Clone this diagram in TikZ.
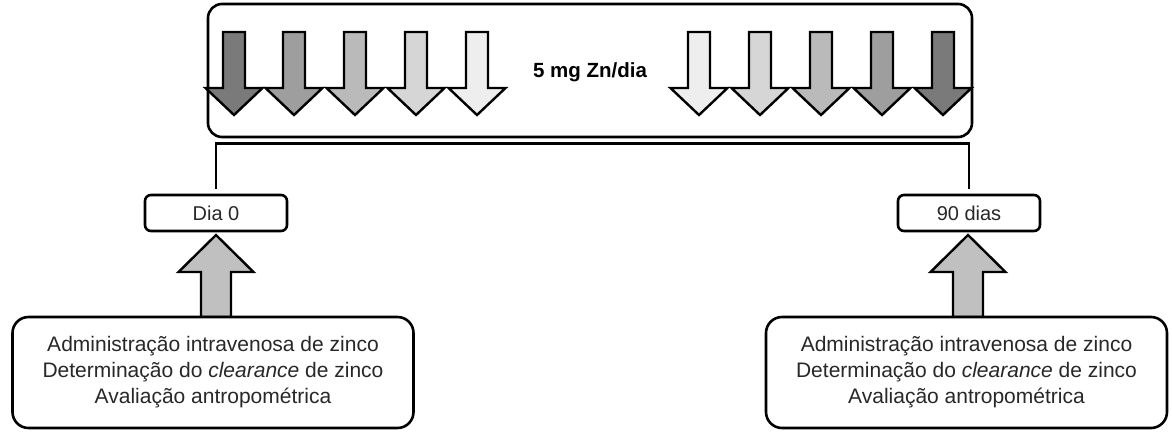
\documentclass[tikz,border=0pt]{standalone}
\usepackage{fontspec}
\setmainfont{Liberation Sans}
\usetikzlibrary{positioning}
\definecolor{zincA}{RGB}{122,122,122}
\definecolor{zincB}{RGB}{158,158,158}
\definecolor{zincC}{RGB}{186,186,186}
\definecolor{zincD}{RGB}{214,214,214}
\definecolor{zincE}{RGB}{238,238,238}
\definecolor{probe}{RGB}{192,192,192}
\definecolor{inkgrey}{RGB}{40,40,40}
\tikzset{
  panel/.style={draw=black,line width=2.6pt,rounded corners=14pt,fill=white},
  daybox/.style={draw=black,line width=2.6pt,rounded corners=6pt,fill=white,
    minimum width=142pt,minimum height=36pt,text=inkgrey,
    font=\fontsize{20}{24}\selectfont},
  infobox/.style={draw=black,line width=2.6pt,rounded corners=16pt,fill=white,
    minimum width=401pt,minimum height=111pt,align=center,text=inkgrey,
    font=\fontsize{21}{26}\selectfont},
  doseshape/.style={draw=black,line width=2.4pt,line join=miter},
  bracket/.style={draw=black,line width=2.6pt},
}
\newcommand{\probearrow}[1]{%
  \draw[doseshape,fill=probe] (#1) ++(-15,0) -- ++(0,-45) -- ++(-22.5,0)
    -- ++(37.5,-37) -- ++(37.5,37) -- ++(-22.5,0) -- ++(0,45) -- cycle;}

\begin{document}
\begin{tikzpicture}[x=1pt,y=-1pt]
\useasboundingbox (0,0) rectangle (1172,437);
% Supplementation period
\node[panel,minimum width=764pt,minimum height=133pt] (dose) at (590,70.5) {};
\foreach \x/\c in {234/zincA,294/zincB,355/zincC,416/zincD,477/zincE,
                   699/zincE,760/zincD,821/zincC,882/zincB,943/zincA}
  \draw[doseshape,fill=\c] (\x-11,32) -- ++(22,0) -- ++(0,56) -- ++(17.5,0)
    -- ++(-28.5,27) -- ++(-28.5,-27) -- ++(17.5,0) -- cycle;
\node[font=\fontsize{20.5}{24}\selectfont\bfseries] (rate) at (590,72) {5 mg Zn/dia};
% Time points
\node[daybox] (day0) at (216,213) {Dia 0};
\node[daybox] (day90) at (969,213) {90 dias};
\draw[bracket] ([yshift=5pt]day0.north) -- ++(0,-45) -| ([yshift=5pt]day90.north);
% Procedures
\coordinate (probeL) at (216,317);
\coordinate (probeR) at (968,317);
\probearrow{probeL}
\probearrow{probeR}
\node[infobox] (procL) at (213,372.5) {Administração intravenosa de zinco\\
  Determinação do \textit{clearance} de zinco\\Avaliação antropométrica};
\node[infobox] (procR) at (966.5,372.5) {Administração intravenosa de zinco\\
  Determinação do \textit{clearance} de zinco\\Avaliação antropométrica};
\end{tikzpicture}
\end{document}
